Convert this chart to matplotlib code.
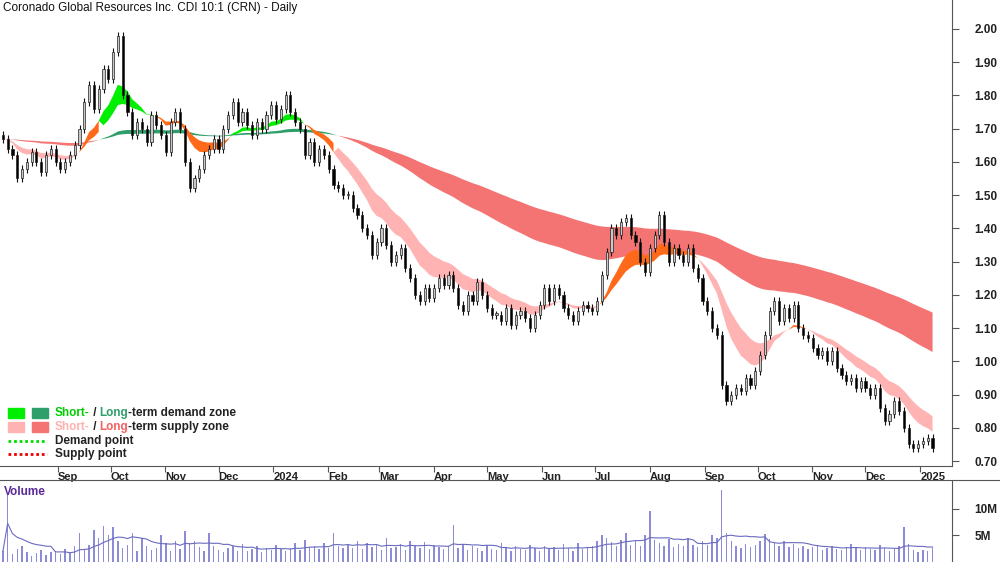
import numpy as np
import pandas as pd
import matplotlib
matplotlib.use("Agg")
import matplotlib.pyplot as plt
import matplotlib.dates as mdates
from matplotlib.patches import Rectangle
from matplotlib.lines import Line2D

title = "Coronado Global Resources Inc. CDI 10:1 (CRN) - Daily"
start_date = "2023-08-01"
end_date = "2025-01-08"

closes = [
    1.67, 1.64, 1.62, 1.55, 1.58, 1.60, 1.63, 1.60, 1.57, 1.62, 1.64, 1.60,
    1.58, 1.60, 1.62, 1.65, 1.70, 1.78, 1.83, 1.76, 1.82, 1.88, 1.85, 1.93, 1.98,
    1.80, 1.75, 1.68, 1.72, 1.70, 1.66, 1.74, 1.71, 1.68, 1.63, 1.72, 1.75,
    1.70, 1.60, 1.52, 1.55, 1.58, 1.62, 1.64, 1.67, 1.64, 1.70, 1.74, 1.78, 1.72,
    1.75, 1.71, 1.68, 1.72, 1.70, 1.74, 1.77, 1.73, 1.76, 1.80, 1.75,
    1.72, 1.70, 1.62, 1.66, 1.60, 1.64, 1.62, 1.58, 1.53, 1.52, 1.50,
    1.50, 1.46, 1.44, 1.40, 1.38, 1.32, 1.36, 1.40, 1.35, 1.30,
    1.32, 1.34, 1.28, 1.25, 1.20, 1.18, 1.22, 1.19, 1.22, 1.25,
    1.23, 1.26, 1.22, 1.17, 1.15, 1.20, 1.18, 1.24, 1.20, 1.16, 1.14,
    1.14, 1.12, 1.16, 1.11, 1.14, 1.15, 1.13, 1.10, 1.14, 1.17, 1.22, 1.18,
    1.22, 1.20, 1.16, 1.14, 1.12, 1.15, 1.17, 1.16, 1.15, 1.18, 1.26,
    1.33, 1.40, 1.38, 1.42, 1.43, 1.38, 1.36, 1.30, 1.27, 1.34, 1.38, 1.44,
    1.36, 1.30, 1.34, 1.32, 1.30, 1.34, 1.28, 1.25, 1.18, 1.15, 1.10,
    1.08, 0.93, 0.88, 0.90, 0.92, 0.91, 0.95, 0.93, 0.97, 1.02, 1.08,
    1.15, 1.18, 1.12, 1.16, 1.13, 1.17, 1.10, 1.08, 1.07, 1.04, 1.02, 1.03,
    1.00, 1.03, 0.98, 0.96, 0.94, 0.95, 0.92, 0.94, 0.92, 0.90, 0.92,
    0.86, 0.82, 0.84, 0.88, 0.85, 0.80, 0.75, 0.74, 0.75, 0.76, 0.77, 0.74,
]

volumes_m = [
    2.0, 12.5, 1.5, 2.5, 3.0, 1.8, 1.2, 1.6, 2.2, 1.4, 1.8, 2.0,
    1.5, 2.4, 1.6, 3.0, 5.5, 2.2, 3.2, 6.0, 4.5, 6.8, 5.0, 6.5, 4.0,
    2.6, 3.2, 5.5, 2.0, 4.5, 3.0, 2.2, 2.6, 5.0, 3.6, 2.0, 4.0,
    2.4, 5.8, 3.5, 4.0, 2.8, 2.0, 5.5, 3.0, 2.2, 1.8, 2.6, 3.0, 2.0,
    3.4, 2.0, 2.4, 3.0, 1.8, 2.6, 2.2, 3.2, 2.4, 2.0, 2.6,
    3.6, 2.2, 4.2, 2.8, 3.0, 2.4, 3.5, 2.6, 5.5, 3.0, 2.6,
    3.2, 2.6, 4.0, 2.4, 3.6, 2.8, 3.2, 2.2, 4.5, 2.6,
    2.8, 3.4, 2.2, 4.0, 3.0, 2.6, 3.8, 2.4, 3.2, 2.8,
    2.4, 3.0, 7.0, 2.6, 3.4, 2.2, 3.0, 2.6, 2.0, 3.2, 2.4,
    2.2, 3.6, 2.6, 2.0, 3.0, 2.4, 2.2, 3.2, 2.6, 2.0, 3.0, 2.4,
    2.8, 2.2, 3.4, 2.6, 2.0, 3.6, 2.4, 2.8, 3.0, 4.0, 5.0,
    4.5, 3.8, 3.0, 4.2, 5.5, 3.2, 4.0, 3.0, 5.0, 9.5, 4.2, 3.6,
    3.0, 4.4, 2.8, 3.4, 3.0, 4.6, 3.2, 2.8, 4.0, 3.2, 5.0,
    4.5, 13.5, 5.5, 4.0, 3.0, 2.6, 3.4, 2.8, 3.2, 4.0, 5.2,
    4.4, 3.6, 3.0, 4.0, 2.8, 3.4, 2.6, 3.0, 2.4, 2.8, 3.2, 2.2,
    2.6, 3.0, 2.4, 2.2, 2.8, 3.4, 2.6, 2.2, 2.8, 2.4, 2.2,
    3.2, 2.6, 2.0, 2.4, 3.0, 6.5, 3.4, 2.2, 1.8, 2.2, 2.0, 2.6,
]

price_ticks = [0.70, 0.80, 0.90, 1.00, 1.10, 1.20, 1.30, 1.40, 1.50, 1.60, 1.70, 1.80, 1.90, 2.00]
month_labels = ["Sep", "Oct", "Nov", "Dec", "2024", "Feb", "Mar", "Apr", "May", "Jun",
                "Jul", "Aug", "Sep", "Oct", "Nov", "Dec", "2025"]
vol_ticks = [5, 10]
vol_tick_labels = ["5M", "10M"]

# ---------------- derived -----------------
n = len(closes)
dates = pd.date_range(start_date, end_date, periods=n)
x = mdates.date2num(dates)
c = np.array(closes)
o = np.concatenate([[c[0] + 0.01], c[:-1]])
wick = 0.012
hi = np.maximum(o, c) + wick
lo = np.minimum(o, c) - wick
s = pd.Series(c)
st_fast = s.ewm(span=10, adjust=False).mean().values
st_slow = s.ewm(span=18, adjust=False).mean().values
lt_fast = s.ewm(span=72, adjust=False).mean().values
lt_slow = s.ewm(span=125, adjust=False).mean().values

plt.rcParams['font.family'] = ['Liberation Sans', 'DejaVu Sans']
fig = plt.figure(figsize=(10, 5.62), dpi=100)
H = 562.0
axv = fig.add_axes([0, 0, 0.952, 82 / H])
axp = fig.add_axes([0, 1 - 466 / H, 0.952, 466 / H])
axv.patch.set_alpha(0)
axp.patch.set_alpha(0)

GREEN = "#00ee00"
DGREEN = "#2e9e6a"
PINK = "#ffb3b3"
RED = "#f47474"
ORANGE = "#ff6a1a"

lt_up = lt_fast >= lt_slow
st_up = st_fast >= st_slow
axp.fill_between(x, lt_fast, lt_slow, where=lt_up, color=DGREEN, lw=0, interpolate=True, zorder=1)
axp.fill_between(x, lt_fast, lt_slow, where=~lt_up, color=RED, lw=0, interpolate=True, zorder=1)
agree_up = st_up & lt_up
agree_dn = (~st_up) & (~lt_up)
dis = ~(agree_up | agree_dn)
axp.fill_between(x, st_fast, st_slow, where=agree_up, color=GREEN, lw=0, interpolate=True, zorder=2)
axp.fill_between(x, st_fast, st_slow, where=agree_dn, color=PINK, lw=0, interpolate=True, zorder=2)
axp.fill_between(x, st_fast, st_slow, where=dis, color=ORANGE, lw=0, interpolate=True, zorder=2)

dx = (x[1] - x[0])
bw = dx * 0.45
axp.vlines(x, lo, hi, color="#111111", lw=0.8, zorder=3)
for xi, oi, ci in zip(x, o, c):
    up = ci >= oi
    b = min(oi, ci)
    h = max(abs(ci - oi), 0.004)
    axp.add_patch(Rectangle((xi - bw / 2, b), bw, h, facecolor="#c8c8c8" if up else "#000000",
                            edgecolor="#222222", lw=0.5, zorder=4))

xmin = x[0] - dx * 0.6
xmax = mdates.date2num(pd.Timestamp("2025-01-19"))
axp.set_xlim(xmin, xmax)
axp.set_ylim(0.685, 2.087)
axv.set_xlim(xmin, xmax)
axv.set_ylim(0, 15.4)

for ax in (axp, axv):
    for sp in ("top", "left"):
        ax.spines[sp].set_visible(False)
    ax.spines["right"].set_color("#555555")
    ax.yaxis.tick_right()
    ax.tick_params(axis="y", direction="out", length=5, color="#555555", pad=11,
                   labelsize=8.5, labelcolor="#222222")
axv.spines["bottom"].set_visible(False)
axp.spines["bottom"].set_color("#555555")

axp.set_yticks(price_ticks)
axp.set_yticklabels([f"{p:.2f}" for p in price_ticks], fontweight="bold")
axv.set_yticks(vol_ticks)
axv.set_yticklabels(vol_tick_labels, fontweight="bold")

month_starts = pd.date_range("2023-09-01", "2025-01-01", freq="MS")
axp.set_xticks(mdates.date2num(month_starts))
axp.set_xticklabels(month_labels, fontweight="bold", ha="left")
axp.tick_params(axis="x", direction="out", length=4, color="#555555", pad=0,
                labelsize=8, labelcolor="#222222")
axv.set_xticks([])

axv.bar(x, volumes_m, width=dx * 0.3, color="#8c8cd6", lw=0)
vma = pd.Series(volumes_m).rolling(10, min_periods=1).mean().values
axv.plot(x, vma, color="#6a6ac0", lw=0.8)
axv.text(0.004, 0.93, "Volume", transform=axv.transAxes, color="#5a2a9a",
         fontsize=8.5, fontweight="bold", va="top")

fig.add_artist(Line2D([0, 1], [1 - 480 / H, 1 - 480 / H], color="#555555", lw=0.8))

fig.text(0.003, 1 - 8 / H, title, fontsize=8.5, va="center", ha="left", color="#111111")

def fy(py):
    return 1 - py / H

rows = [413, 427, 441, 454]
for px, col in ((8, GREEN), (32, DGREEN)):
    fig.add_artist(Rectangle((px / 1000, fy(rows[0] + 5)), 16 / 1000, 10 / H, color=col,
                             transform=fig.transFigure))
for px, col in ((8, PINK), (32, RED)):
    fig.add_artist(Rectangle((px / 1000, fy(rows[1] + 5)), 16 / 1000, 10 / H, color=col,
                             transform=fig.transFigure))
fig.add_artist(Line2D([8 / 1000, 47 / 1000], [fy(rows[2]), fy(rows[2])], color="#00dd00",
                      lw=2, ls=(0, (1, 1))))
fig.add_artist(Line2D([8 / 1000, 47 / 1000], [fy(rows[3]), fy(rows[3])], color="#ee0000",
                      lw=2, ls=(0, (1, 1))))

def seg_text(py, parts):
    xx = 55 / 1000
    r = fig.canvas.get_renderer()
    for txt, col in parts:
        t = fig.text(xx, fy(py), txt, color=col, fontsize=8.5, fontweight="bold",
                     va="center", ha="left")
        bb = t.get_window_extent(renderer=r)
        xx += bb.width / 1000

seg_text(rows[0], [("Short-", "#00cc00"), (" / ", "#222222"), ("Long", "#2e9e6a"),
                   ("-term demand zone", "#222222")])
seg_text(rows[1], [("Short-", "#ffb0b0"), (" / ", "#222222"), ("Long", "#f46060"),
                   ("-term supply zone", "#222222")])
seg_text(rows[2], [("Demand point", "#222222")])
seg_text(rows[3], [("Supply point", "#222222")])

fig.savefig("out.png", dpi=100)
